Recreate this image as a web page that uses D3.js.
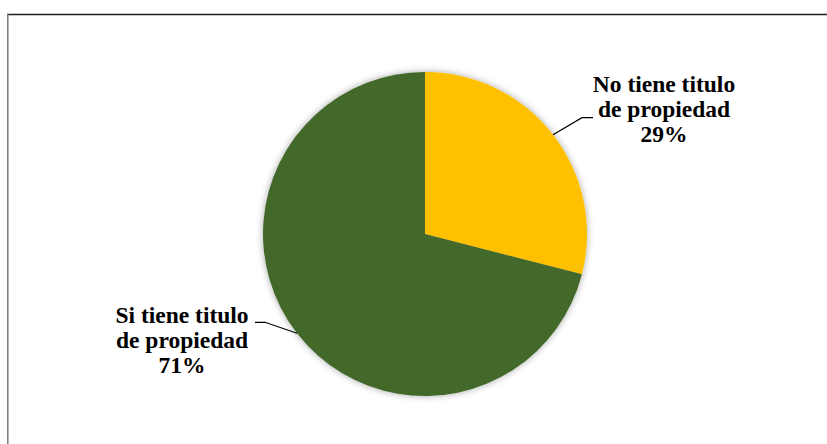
<!DOCTYPE html>
<html>
<head>
<meta charset="utf-8">
<script src="https://cdn.jsdelivr.net/npm/d3@7/dist/d3.min.js"></script>
<style>
  html, body { margin: 0; padding: 0; background: #ffffff; }
  svg { display: block; }
</style>
</head>
<body>
<svg id="chart" width="827" height="444"></svg>
<script>
// Property title status
const categories = ["No tiene titulo de propiedad", "Si tiene titulo de propiedad"];
const labelLines = [["No tiene titulo", "de propiedad"], ["Si tiene titulo", "de propiedad"]];
const values = [29, 71];
const colors = ["#FFC000", "#43682B"];

const width = 827, height = 444;
const cx = 425, cy = 234, radius = 162;
const serif = "'Times New Roman', 'Liberation Serif', Tinos, 'DejaVu Serif', serif";

const svg = d3.select("#chart");

// Frame (top and left edges of the chart area)
svg.append("line").attr("x1", 7).attr("x2", width).attr("y1", 14.5).attr("y2", 14.5)
  .attr("stroke", "#1e1e1e").attr("stroke-width", 1.3);
svg.append("line").attr("x1", 7.8).attr("x2", 7.8).attr("y1", 14).attr("y2", height)
  .attr("stroke", "#7a7a7a").attr("stroke-width", 1.5);

// Soft shadow for the pie
const defs = svg.append("defs");
const f = defs.append("filter").attr("id", "pieShadow")
  .attr("x", "-20%").attr("y", "-20%").attr("width", "140%").attr("height", "140%");
f.append("feDropShadow").attr("dx", 0).attr("dy", 0).attr("stdDeviation", 3.5)
  .attr("flood-color", "#000").attr("flood-opacity", 0.35);

const pie = d3.pie().sort(null).value(d => d)
  .startAngle(0).endAngle(2 * Math.PI);
const arcs = pie(values);
const arc = d3.arc().innerRadius(0).outerRadius(radius);

const g = svg.append("g").attr("transform", `translate(${cx},${cy})`);
g.append("g").attr("filter", "url(#pieShadow)")
  .selectAll("path").data(arcs).enter().append("path")
  .attr("d", arc)
  .attr("fill", (d, i) => colors[i]);

// Leader lines and labels
const edgePoint = d => {
  const a = (d.startAngle + d.endAngle) / 2;
  return [radius * Math.sin(a), -radius * Math.cos(a)];
};
const leaderOffsets = [
  { elbow: [29, -17], end: [40, -17] },
  { elbow: [-32, -11], end: [-42, -11] }
];
const labelPos = [
  { x: 664 - cx, y: 92 - cy },
  { x: 182 - cx, y: 323 - cy }
];
const lineStep = 25;

arcs.forEach((d, i) => {
  const p = edgePoint(d);
  const o = leaderOffsets[i];
  g.append("polyline")
    .attr("points", [p, [p[0] + o.elbow[0], p[1] + o.elbow[1]], [p[0] + o.end[0], p[1] + o.end[1]]]
      .map(q => q.join(",")).join(" "))
    .attr("fill", "none").attr("stroke", "#000").attr("stroke-width", 1.2);

  const t = g.append("text")
    .attr("text-anchor", "middle")
    .attr("font-family", serif)
    .attr("font-weight", "bold")
    .attr("font-size", "23.5px")
    .attr("fill", "#000")
    .attr("x", labelPos[i].x).attr("y", labelPos[i].y);
  const lines = labelLines[i].concat([d3.format(".0%")(d.data / 100)]);
  lines.forEach((s, k) => {
    t.append("tspan").attr("x", labelPos[i].x).attr("y", labelPos[i].y + k * lineStep).text(s);
  });
});
</script>
</body>
</html>
